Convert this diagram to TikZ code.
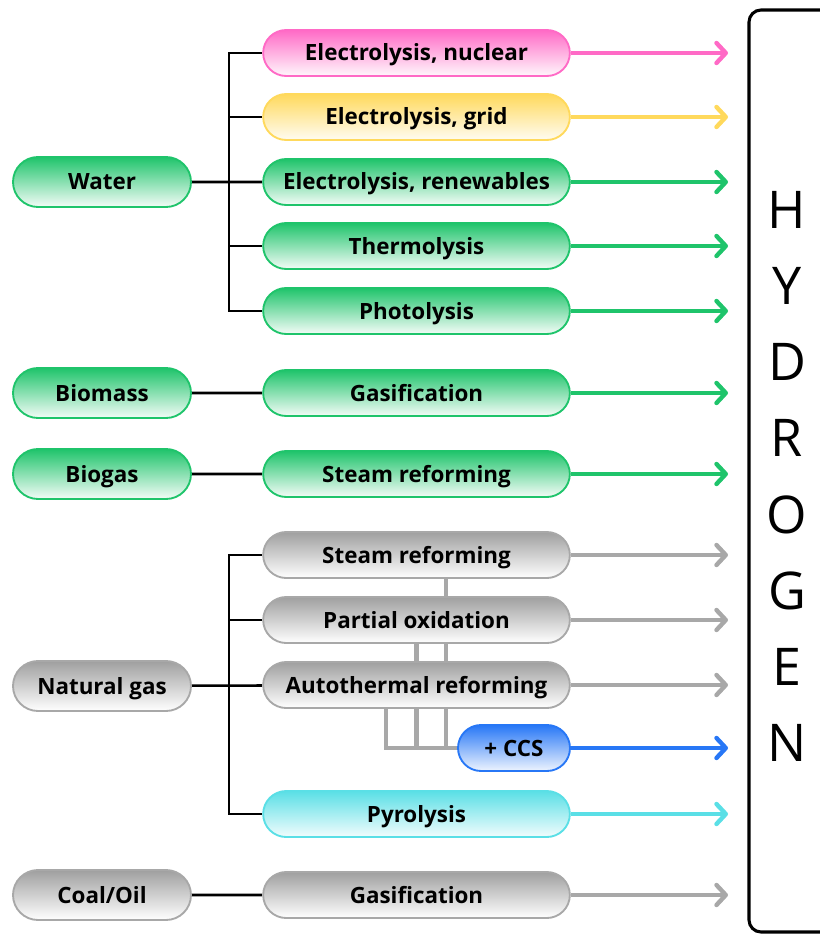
\documentclass[tikz,border=0pt]{standalone}
\usepackage{fontspec}
\setmainfont{Open Sans}
\newfontfamily\letterfont{Open Sans}
\usetikzlibrary{arrows.meta,shapes.misc,backgrounds}

\definecolor{grn}{HTML}{1FC46B}
\definecolor{pnk}{HTML}{FF6AC6}
\definecolor{ylw}{HTML}{FFD95C}
\definecolor{gry}{HTML}{A8A8A8}
\definecolor{blu}{HTML}{2777F6}
\definecolor{cyn}{HTML}{5ADFE6}

\begin{document}
\begin{tikzpicture}[
    x=0.75pt, y=-0.75pt,
    pill/.style={rounded rectangle, line width=1.4pt, inner sep=0pt, minimum height=34.5pt, text height=12pt, text depth=0pt, font=\bfseries\fontsize{16.8}{18}\selectfont},
    src/.style={pill, minimum width=133.5pt, minimum height=37.5pt},
    route/.style={pill, minimum width=230pt},
    green/.style={draw=grn, top color=grn, bottom color=grn!5},
    pink/.style={draw=pnk, top color=pnk, bottom color=pnk!5},
    yellow/.style={draw=ylw, top color=ylw, bottom color=ylw!8},
    grey/.style={draw=gry, top color=gry!95!black, bottom color=white},
    blue/.style={draw=blu, top color=blu, bottom color=blu!8},
    cyan/.style={draw=cyn, top color=cyn, bottom color=cyn!8},
    tree/.style={draw, line width=1.9pt},
    flow/.style={line width=3.3pt, -{Straight Barb[length=7pt,width=15pt,round]}},
    ccsline/.style={draw=gry, line width=3.3pt},
    letter/.style={font=\letterfont\fontsize{39}{40}\selectfont, inner sep=0pt}
]
\useasboundingbox (0,0) rectangle (819,934);

% Sources
\node[src, green] (water) at (102,182) {Water};
\node[src, green] (bmass) at (102,393) {Biomass};
\node[src, green] (bgas) at (102,474) {Biogas};
\node[src, grey] (ngas) at (102,686) {Natural gas};
\node[src, grey] (coal) at (102,895) {Coal/Oil};

% Production routes
\node[route, pink] (enuc) at (416.5,53) {Electrolysis, nuclear};
\node[route, yellow] (egrid) at (416.5,117) {Electrolysis, grid};
\node[route, green] (eren) at (416.5,182) {Electrolysis, renewables};
\node[route, green] (thermo) at (416.5,246) {Thermolysis};
\node[route, green] (photo) at (416.5,311) {Photolysis};
\node[route, green] (gbio) at (416.5,393) {Gasification};
\node[route, green] (sbio) at (416.5,474) {Steam reforming};
\node[route, grey] (smr) at (416.5,555) {Steam reforming};
\node[route, grey] (pox) at (416.5,620) {Partial oxidation};
\node[route, grey] (atr) at (416.5,685) {Autothermal reforming};
\node[pill, blue, minimum width=84pt] (ccs) at (514,748) {+ CCS};
\node[route, cyan] (pyro) at (416.5,814) {Pyrolysis};
\node[route, grey] (gcoal) at (416.5,895) {Gasification};

% Junctions and arrow ends
\coordinate (wj) at (229,182);
\coordinate (gj) at (229,686);
\coordinate (tip) at (728,0);

\begin{scope}[on background layer]
% Water tree
\draw[tree] (water) -- (eren);
\draw[tree] (enuc.west) -| (wj) |- (photo.west);
\draw[tree] (wj |- egrid.west) -- (egrid.west);
\draw[tree] (wj |- thermo.west) -- (thermo.west);
\draw[tree] (bmass) -- (gbio);
\draw[tree] (bgas) -- (sbio);

% Natural gas tree
\draw[tree] (ngas) -- (atr);
\draw[tree] (smr.west) -| (gj) |- (pyro.west);
\draw[tree] (gj |- pox.west) -- (pox.west);
\draw[tree] (coal) -- (gcoal);

% Capture links
\draw[ccsline] ([xshift=22]smr.south) |- (ccs.west);
\draw[ccsline] (pox.south) |- (ccs.west);
\draw[ccsline] ([xshift=-23]atr.south) |- (ccs.west);

% Arrows to hydrogen
\draw[flow, pnk] (enuc.east) -- (enuc.east -| tip);
\draw[flow, ylw] (egrid.east) -- (egrid.east -| tip);
\foreach \n in {eren,thermo,photo,gbio,sbio}
  \draw[flow, grn] (\n.east) -- (\n.east -| tip);
\foreach \n in {smr,pox,atr,gcoal}
  \draw[flow, gry] (\n.east) -- (\n.east -| tip);
\draw[flow, blu] (ccs.east) -- (ccs.east -| tip);
\draw[flow, cyn] (pyro.east) -- (pyro.east -| tip);
\end{scope}

% Hydrogen box
\draw[line width=2.3pt, rounded corners=9pt] (749,10) rectangle (845,932);
\foreach \l [count=\i] in {H,Y,D,R,O,G,E,N}
  \node[letter] (h\i) at (787,134+76.1*\i) {\l};

\end{tikzpicture}
\end{document}
